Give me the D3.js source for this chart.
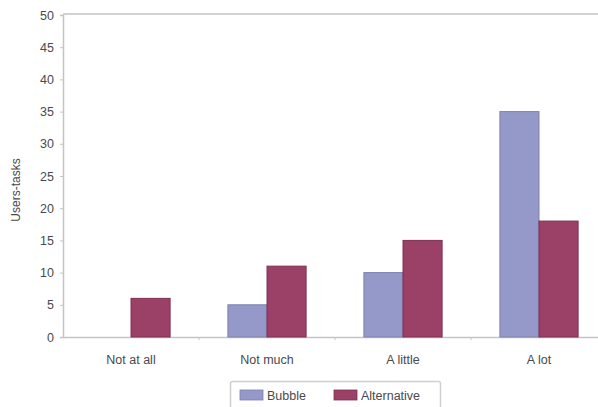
<!DOCTYPE html>
<html>
<head>
<meta charset="utf-8">
<script src="https://cdn.jsdelivr.net/npm/d3@7"></script>
<style>
  html, body { margin: 0; padding: 0; background: #fff; }
  svg { display: block; font-family: "Liberation Sans", Arial, sans-serif; }
</style>
</head>
<body>
<svg id="chart" width="598" height="407"></svg>
<script>
// Responses per category for each interface
const categories = ["Not at all", "Not much", "A little", "A lot"];
const seriesNames = ["Bubble", "Alternative"];
const bubbleValues = [0, 5, 10, 35];
const alternativeValues = [6, 11, 15, 18];
const yTicks = [0, 5, 10, 15, 20, 25, 30, 35, 40, 45, 50];

const colors = { Bubble: "#9599c9", Alternative: "#9b4167" };
const strokes = { Bubble: "#7d81ad", Alternative: "#7e3052" };

const svg = d3.select("#chart");
const plot = { left: 63, top: 15, right: 607, bottom: 337 };

const x = d3.scaleBand()
  .domain(categories)
  .range([plot.left, plot.right])
  .paddingInner(0)
  .paddingOuter(0);

const xSeries = d3.scaleBand()
  .domain(seriesNames)
  .range([0, x.bandwidth() * 0.575]);

const y = d3.scaleLinear()
  .domain([0, 50])
  .range([plot.bottom, plot.top]);

// Plot area top border
svg.append("line")
  .attr("x1", plot.left)
  .attr("x2", plot.right)
  .attr("y1", plot.top - 1)
  .attr("y2", plot.top - 1)
  .attr("stroke", "#d2d2d2")
  .attr("stroke-width", 2);

// Y axis
const yAxis = svg.append("g")
  .attr("transform", `translate(${plot.left},0)`)
  .call(d3.axisLeft(y).tickValues(yTicks).tickSize(3).tickPadding(6));
yAxis.select(".domain").attr("stroke", "#c4c4c4").attr("stroke-width", 1.5);
yAxis.selectAll(".tick line").attr("stroke", "#c4c4c4");
yAxis.selectAll(".tick text")
  .attr("fill", "#4a4a4a")
  .attr("font-size", 12.5);

// X axis
const xAxis = svg.append("g")
  .attr("transform", `translate(0,${plot.bottom})`)
  .call(d3.axisBottom(x).tickSize(0).tickPadding(18));
xAxis.select(".domain").attr("stroke", "#c4c4c4").attr("stroke-width", 1.5);
xAxis.selectAll(".tick text")
  .attr("fill", "#4a4a4a")
  .attr("font-size", 12.5);

// small tick marks between categories
svg.append("g")
  .selectAll("line")
  .data(categories.slice(1))
  .join("line")
  .attr("x1", d => x(d))
  .attr("x2", d => x(d))
  .attr("y1", plot.bottom)
  .attr("y2", plot.bottom + 3)
  .attr("stroke", "#c4c4c4");

// Bars
const rows = categories.map((c, i) => ({
  category: c,
  values: [
    { series: "Bubble", value: bubbleValues[i] },
    { series: "Alternative", value: alternativeValues[i] }
  ]
}));

const groupOffset = (x.bandwidth() - xSeries.range()[1]) / 2;

svg.append("g")
  .selectAll("g")
  .data(rows)
  .join("g")
  .attr("transform", d => `translate(${x(d.category) + groupOffset},0)`)
  .selectAll("rect")
  .data(d => d.values.filter(v => v.value > 0))
  .join("rect")
  .attr("x", d => xSeries(d.series))
  .attr("y", d => y(d.value))
  .attr("width", xSeries.bandwidth())
  .attr("height", d => y(0) - y(d.value))
  .attr("fill", d => colors[d.series])
  .attr("stroke", d => strokes[d.series])
  .attr("stroke-width", 1);

// Y axis title
svg.append("text")
  .attr("transform", "translate(20,190) rotate(-90)")
  .attr("text-anchor", "middle")
  .attr("fill", "#4a4a4a")
  .attr("font-size", 12)
  .text("Users-tasks");

// Legend
const legend = svg.append("g");
legend.append("rect")
  .attr("x", 230.5)
  .attr("y", 381.5)
  .attr("width", 210)
  .attr("height", 40)
  .attr("rx", 2)
  .attr("fill", "#fff")
  .attr("stroke", "#cfcfcf")
  .attr("stroke-width", 1.5);

const legendItems = [
  { name: "Bubble", sx: 240, tx: 267 },
  { name: "Alternative", sx: 334, tx: 361 }
];
legend.selectAll("rect.sw")
  .data(legendItems)
  .join("rect")
  .attr("class", "sw")
  .attr("x", d => d.sx)
  .attr("y", 390)
  .attr("width", 23)
  .attr("height", 10)
  .attr("fill", d => colors[d.name])
  .attr("stroke", d => strokes[d.name])
  .attr("stroke-width", 0.8);
legend.selectAll("text")
  .data(legendItems)
  .join("text")
  .attr("x", d => d.tx)
  .attr("y", 400)
  .attr("fill", "#4a4a4a")
  .attr("font-size", 12.5)
  .text(d => d.name);
</script>
</body>
</html>
